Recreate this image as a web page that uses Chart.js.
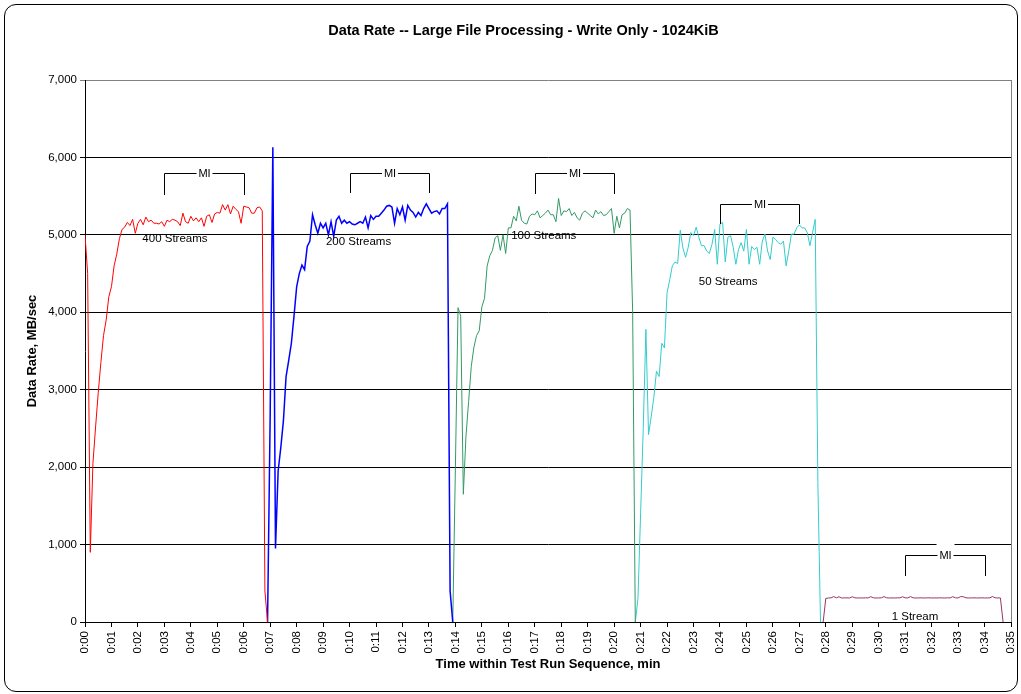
<!DOCTYPE html>
<html>
<head>
<meta charset="utf-8">
<script src="https://cdn.jsdelivr.net/npm/chart.js@4.4.1/dist/chart.umd.min.js"></script>
<style>
    body { margin: 0; background: #fff; }
    #frame { position: absolute; left: 4px; top: 4px; width: 1012px; height: 686px; border: 1px solid #000; border-radius: 12px; }
    #myChart { position: absolute; left: 0; top: 0; }
</style>
</head>
<body>
<div id="frame"></div>
<canvas id="myChart" width="1021" height="694"></canvas>
<script>
// sample step of the run log, in minutes
var step = 0.1;

// 400 streams, starts at 0:00
var start400 = 0.0;
var rate400 = [
    5000, 4500, 900, 2050, 2520, 2960, 3350, 3700, 3900, 4200,
    4330, 4600, 4750, 4950, 5070, 5100, 5160, 5120, 5200, 5020,
    5150, 5200, 5130, 5230, 5170, 5190, 5150, 5150, 5140, 5170,
    5110, 5190, 5170, 5200, 5190, 5170, 5120, 5280, 5170, 5150,
    5240, 5180, 5220, 5170, 5220, 5110, 5240, 5260, 5160, 5270,
    5290, 5280, 5390, 5320, 5390, 5270, 5370, 5330, 5300, 5150,
    5370, 5360, 5350, 5280, 5280, 5350, 5360, 5310, 400, 0
];

// 200 streams
var start200 = 6.9;
var rate200 = [
    0, 2700, 6130, 950, 1950, 2250, 2600, 3170, 3380, 3600,
    3950, 4330, 4500, 4610, 4550, 4850, 4920, 5260, 5130, 5020,
    5150, 5090, 5150, 5000, 5170, 4980, 5190, 5240, 5150, 5190,
    5150, 5170, 5140, 5130, 5150, 5170, 5150, 5230, 5090, 5250,
    5200, 5240, 5240, 5280, 5320, 5370, 5380, 5360, 5150, 5340,
    5260, 5360, 5190, 5380, 5320, 5290, 5230, 5290, 5250, 5340,
    5400, 5340, 5280, 5300, 5310, 5270, 5340, 5340, 5400, 400,
    0
];

// 100 streams
var start100 = 13.9;
var rate100 = [
    0, 2000, 4060, 3950, 1650, 2400, 2850, 3300, 3550, 3700,
    3760, 4070, 4180, 4600, 4730, 4800, 4960, 4990, 4800, 5000,
    4760, 5090, 5090, 5240, 5180, 5370, 5190, 5150, 5140, 5240,
    5270, 5260, 5310, 5220, 5250, 5280, 5320, 5260, 5260, 5170,
    5470, 5250, 5310, 5300, 5340, 5250, 5290, 5220, 5190, 5280,
    5310, 5280, 5250, 5220, 5320, 5270, 5300, 5250, 5260, 5300,
    5340, 5020, 5240, 5090, 5260, 5280, 5340, 5320, 4000, 0
];

// 50 streams
var start50 = 20.8;
var rate50 = [
    0, 300, 1400, 2500, 3780, 2420, 2650, 2900, 3240, 3170,
    3600, 3540, 4250, 4420, 4600, 4650, 4630, 5060, 4830, 4710,
    4840, 5030, 4990, 5100, 4970, 4860, 4860, 4790, 4760, 4880,
    5070, 4620, 5140, 5160, 4650, 4970, 4990, 4840, 4620, 4810,
    4900, 4790, 5070, 4620, 4850, 4810, 4840, 4620, 4920, 5010,
    4790, 4680, 4970, 4940, 4900, 4880, 4920, 4600, 4790, 5010,
    5010, 5090, 5130, 5090, 5090, 5030, 4860, 5030, 5200, 1800,
    0
];

// 1 stream
var start1 = 27.9;
var rate1 = [
    0, 305, 310, 312, 328, 312, 326, 310, 311, 312,
    310, 326, 312, 310, 311, 310, 312, 311, 327, 312,
    310, 311, 312, 328, 312, 310, 311, 310, 312, 311,
    326, 312, 311, 328, 312, 310, 311, 312, 310, 311,
    312, 310, 311, 310, 312, 311, 310, 312, 311, 327,
    312, 311, 328, 326, 312, 310, 311, 312, 310, 311,
    312, 310, 311, 312, 329, 312, 311, 310, 0
];

// text under each run
var streamLabels = ["400 Streams", "200 Streams", "100 Streams", "50 Streams", "1 Stream"];
var labelTimes = [3.4, 10.34, 17.34, 24.31, 31.37];
var labelRates = [4950, 4905, 4990, 4397, 64];

// measurement interval brackets
var miStart = [3, 10, 17, 24, 31];
var miEnd = [6, 13, 20, 27, 34];
var miTop = [5800, 5800, 5800, 5400, 860];
var miBottom = [5510, 5540, 5525, 5140, 600];

var chartTitle = 'Data Rate -- Large File Processing - Write Only - 1024KiB';

function points(start, values) {
    let out = [];
    for (let i in values) {
        out.push({ x: Math.round((start + i * step) * 10) / 10, y: values[i] });
    }
    return out;
}

var annotations = {
    id: 'annotations',
    afterDatasetsDraw(chart) {
        let ctx = chart.ctx;
        let xs = chart.scales.x;
        let ys = chart.scales.y;
        let area = chart.chartArea;
        ctx.save();

        // plot area right edge
        ctx.strokeStyle = '#808080';
        ctx.lineWidth = 1;
        ctx.beginPath();
        ctx.moveTo(Math.round(area.right) + 0.5, area.top);
        ctx.lineTo(Math.round(area.right) + 0.5, area.bottom);
        ctx.stroke();

        ctx.textAlign = 'center';
        ctx.textBaseline = 'middle';
        ctx.fillStyle = '#000';

        // title
        ctx.font = 'bold 14.5px "Liberation Sans", Arial, sans-serif';
        ctx.fillText(chartTitle, 523.5, 31);

        ctx.font = '11.5px "Liberation Sans", Arial, sans-serif';
        for (let i in streamLabels) {
            ctx.fillText(streamLabels[i], xs.getPixelForValue(labelTimes[i]), ys.getPixelForValue(labelRates[i]));
        }

        ctx.font = '11px "Liberation Sans", Arial, sans-serif';
        for (let i in miStart) {
            let x1 = Math.round(xs.getPixelForValue(miStart[i])) + 0.5;
            let x2 = Math.round(xs.getPixelForValue(miEnd[i])) + 0.5;
            let yt = Math.round(ys.getPixelForValue(miTop[i])) + 0.5;
            let yb = Math.round(ys.getPixelForValue(miBottom[i]));
            let xm = (x1 + x2) / 2;
            ctx.fillStyle = '#fff';
            ctx.fillRect(xm - 9, yt - 12, 18, 18);
            ctx.strokeStyle = '#000';
            ctx.beginPath();
            ctx.moveTo(x1, yb);
            ctx.lineTo(x1, yt);
            ctx.lineTo(xm - 8, yt);
            ctx.moveTo(xm + 8, yt);
            ctx.lineTo(x2, yt);
            ctx.lineTo(x2, yb);
            ctx.stroke();
            ctx.fillStyle = '#000';
            ctx.fillText('MI', xm, yt);
        }
        ctx.restore();
    }
};

var tickFont = { family: '"Liberation Sans", Arial, sans-serif', size: 11.5 };
var axisTitleFont = { family: '"Liberation Sans", Arial, sans-serif', size: 13, weight: 'bold' };

var ctx = document.getElementById('myChart').getContext('2d');
var myChart = new Chart(ctx, {
    type: 'line',
    data: {
        datasets: [
            { label: '400 Streams', data: points(start400, rate400), borderColor: '#FF0000', borderWidth: 1 },
            { label: '200 Streams', data: points(start200, rate200), borderColor: '#0000FF', borderWidth: 1.5 },
            { label: '100 Streams', data: points(start100, rate100), borderColor: '#339966', borderWidth: 1 },
            { label: '50 Streams', data: points(start50, rate50), borderColor: '#33CCCC', borderWidth: 1 },
            { label: '1 Stream', data: points(start1, rate1), borderColor: '#993366', borderWidth: 1 }
        ]
    },
    options: {
        responsive: false,
        animation: false,
        elements: { point: { radius: 0 }, line: { tension: 0 } },
        layout: { padding: { left: 0, right: 10, top: 80, bottom: 0 } },
        plugins: {
            legend: { display: false },
            tooltip: { enabled: false },
            title: { display: false }
        },
        scales: {
            x: {
                type: 'linear',
                min: 0,
                max: 35,
                afterFit: function (scale) {
                    scale.height = 72;
                    scale.paddingLeft = 0;
                    scale.paddingRight = 0;
                },
                ticks: {
                    stepSize: 1,
                    autoSkip: false,
                    minRotation: 90,
                    maxRotation: 90,
                    padding: 4,
                    color: '#000',
                    font: tickFont,
                    callback: function (v) { return '0:' + (v < 10 ? '0' : '') + v; }
                },
                grid: { drawOnChartArea: false, tickLength: 5, color: '#000' },
                border: { color: '#000' },
                title: {
                    display: true,
                    text: 'Time within Test Run Sequence, min',
                    color: '#000',
                    font: axisTitleFont,
                    padding: { top: 0, bottom: 22.2 }
                }
            },
            y: {
                min: 0,
                max: 7000,
                afterFit: function (scale) {
                    scale.width = 85;
                    scale.paddingTop = 0;
                    scale.paddingBottom = 0;
                },
                ticks: {
                    stepSize: 1000,
                    padding: 3,
                    color: '#000',
                    font: tickFont,
                    callback: function (v) { return v.toLocaleString('en-US'); }
                },
                grid: {
                    tickLength: 5,
                    color: function (c) { return c.tick && c.tick.value === 7000 ? '#808080' : '#000'; }
                },
                border: { color: '#000' },
                title: {
                    display: true,
                    text: 'Data Rate, MB/sec',
                    color: '#000',
                    font: axisTitleFont,
                    padding: { top: 24.2, bottom: 0 }
                }
            }
        }
    },
    plugins: [annotations]
});
</script>
</body>
</html>
